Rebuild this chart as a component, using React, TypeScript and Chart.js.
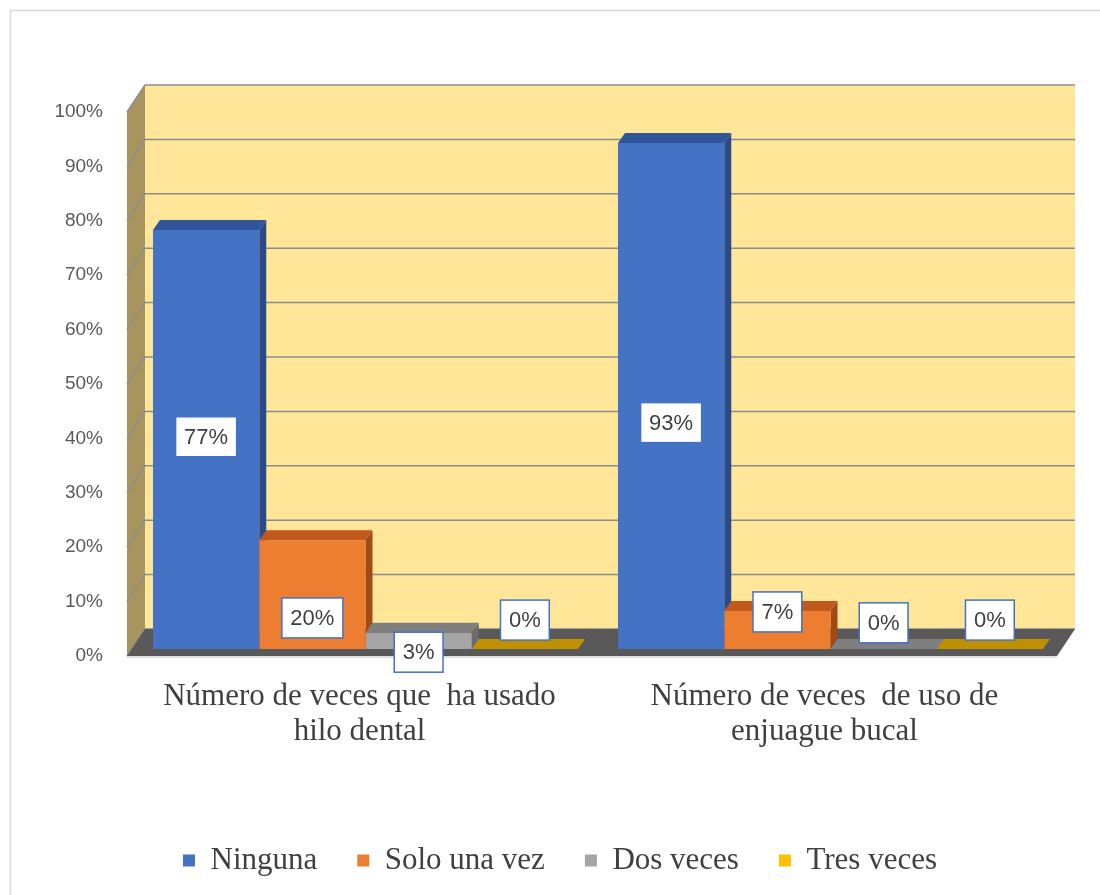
import React, { useEffect, useRef } from 'react';
import { Chart, registerables } from 'chart.js';

Chart.register(...registerables);

// ---------- data ----------
const categories: string[][] = [
  ['Número de veces que  ha usado', 'hilo dental'],
  ['Número de veces  de uso de', 'enjuague bucal'],
];
const seriesNames = ['Ninguna', 'Solo una vez', 'Dos veces', 'Tres veces'];
const ninguna = [0.77, 0.93];
const soloUnaVez = [0.2, 0.07];
const dosVeces = [0.03, 0];
const tresVeces = [0, 0];
const yMin = 0;
const yMax = 1;
const yStep = 0.1;

// where the data labels sit (value units on the front plane)
const labelAnchorNinguna = [0.403, 0.429];
const labelAnchorSolo = [0.07, 0.081];
const labelAnchorDos = [0.007, 0.061];
const labelAnchorTres = [0.066, 0.066];

const seriesValues = [ninguna, soloUnaVez, dosVeces, tresVeces];
const labelAnchors = [labelAnchorNinguna, labelAnchorSolo, labelAnchorDos, labelAnchorTres];

// ---------- styles ----------
const frontColors = ['#4472C4', '#ED7D31', '#A5A5A5', '#FFC000'];
const topColors = ['#31559A', '#C2591C', '#7F7F7F', '#BF9000'];
const sideColors = ['#2B4A87', '#A04A15', '#6B6B6B', '#A67D00'];
const WALL_DX = 18;
const WALL_DY = -27;
const BAR_SHIFT_X = 6;
const BAR_SHIFT_Y = -7;
const BAR_DX = 7;
const BAR_DY = -10;

function poly(ctx: CanvasRenderingContext2D, pts: number[][], fill: string) {
  ctx.beginPath();
  ctx.moveTo(pts[0][0], pts[0][1]);
  for (let k = 1; k < pts.length; k++) ctx.lineTo(pts[k][0], pts[k][1]);
  ctx.closePath();
  ctx.fillStyle = fill;
  ctx.fill();
}

const threeD = {
  id: 'threeD',
  beforeDraw(chart: any) {
    const { ctx, width, height } = chart;
    ctx.save();
    ctx.fillStyle = '#ffffff';
    ctx.fillRect(0, 0, width, height);
    ctx.strokeStyle = '#D9D9D9';
    ctx.lineWidth = 1.5;
    ctx.strokeRect(10.5, 10.5, width + 20, height + 20);
    ctx.restore();
  },
  beforeDatasetsDraw(chart: any) {
    const { ctx, chartArea: a } = chart;
    const ys = chart.scales.y;
    const L = a.left, R = a.right, T = a.top, B = a.bottom;
    ctx.save();
    // back wall
    ctx.fillStyle = '#FFE699';
    ctx.fillRect(L + WALL_DX, T + WALL_DY, R - L, B - T);
    // side wall
    poly(ctx, [[L, T], [L + WALL_DX, T + WALL_DY], [L + WALL_DX, B + WALL_DY], [L, B]], '#A8945F');
    // grid lines
    ctx.strokeStyle = '#8C8C8C';
    ctx.lineWidth = 1.5;
    ys.ticks.forEach((t: any) => {
      const y = ys.getPixelForValue(t.value);
      ctx.beginPath();
      ctx.moveTo(L + WALL_DX, y + WALL_DY);
      ctx.lineTo(R + WALL_DX, y + WALL_DY);
      ctx.stroke();
      ctx.beginPath();
      ctx.moveTo(L, y);
      ctx.lineTo(L + WALL_DX, y + WALL_DY);
      ctx.stroke();
    });
    // floor
    poly(ctx, [[L, B], [L + WALL_DX, B + WALL_DY], [R + WALL_DX, B + WALL_DY], [R, B]], '#595959');
    ctx.strokeStyle = '#BFBFBF';
    ctx.lineWidth = 1;
    ctx.beginPath();
    ctx.moveTo(L, B + 1);
    ctx.lineTo(R, B + 1);
    ctx.stroke();
    ctx.restore();

    // bar extrusions, then leave context translated for the bar fronts
    ctx.save();
    ctx.translate(BAR_SHIFT_X, BAR_SHIFT_Y);
    const items: any[] = [];
    chart.data.datasets.forEach((_ds: any, i: number) => {
      const meta = chart.getDatasetMeta(i);
      meta.data.forEach((el: any) => {
        const p = el.getProps(['x', 'y', 'base', 'width'], true);
        items.push({ ...p, i });
      });
    });
    items.sort((p, q) => p.x - q.x);
    items.forEach((it) => {
      const left = it.x - it.width / 2;
      const right = it.x + it.width / 2;
      const top = Math.min(it.y, it.base);
      const bottom = Math.max(it.y, it.base);
      if (bottom - top > 0.5) {
        poly(ctx, [[right, top], [right + BAR_DX, top + BAR_DY], [right + BAR_DX, bottom + BAR_DY], [right, bottom]], sideColors[it.i]);
      }
      poly(ctx, [[left, top], [left + BAR_DX, top + BAR_DY], [right + BAR_DX, top + BAR_DY], [right, top]], topColors[it.i]);
    });
  },
  afterDatasetsDraw(chart: any) {
    const { ctx } = chart;
    ctx.restore();
    const ys = chart.scales.y;
    ctx.save();
    ctx.font = '22px "Liberation Sans"';
    ctx.textAlign = 'center';
    ctx.textBaseline = 'middle';
    chart.data.datasets.forEach((ds: any, i: number) => {
      const meta = chart.getDatasetMeta(i);
      meta.data.forEach((el: any, j: number) => {
        const v = ds.data[j];
        const text = Math.round(v * 100) + '%';
        const cx = el.x + BAR_SHIFT_X;
        const cy = ys.getPixelForValue(labelAnchors[i][j]);
        const w = ctx.measureText(text).width + 17;
        const h = 40;
        ctx.fillStyle = '#ffffff';
        ctx.fillRect(cx - w / 2, cy - h / 2, w, h);
        ctx.strokeStyle = '#4472C4';
        ctx.lineWidth = 1.5;
        ctx.strokeRect(cx - w / 2, cy - h / 2, w, h);
        ctx.fillStyle = '#404040';
        ctx.fillText(text, cx, cy + 1);
      });
    });
    ctx.restore();
  },
};

export default function App() {
  const ref = useRef<HTMLCanvasElement | null>(null);
  useEffect(() => {
    document.body.style.margin = '0';
    const canvas = ref.current;
    if (!canvas) return;
    const chart = new Chart(canvas, {
      type: 'bar',
      data: {
        labels: categories as any,
        datasets: seriesNames.map((name, i) => ({
          label: name,
          data: seriesValues[i],
          backgroundColor: frontColors[i],
          borderWidth: 0,
          categoryPercentage: 0.914,
          barPercentage: 1,
        })),
      },
      options: {
        responsive: false,
        animation: false,
        layout: { padding: { top: 112, left: 20, right: 0, bottom: 9 } },
        plugins: {
          tooltip: { enabled: false },
          legend: {
            position: 'bottom',
            labels: {
              boxWidth: 12,
              boxHeight: 12,
              padding: 40,
              color: '#404040',
              font: { family: '"Liberation Serif"', size: 31 },
            },
          },
        },
        scales: {
          x: {
            grid: { display: false, drawTicks: false },
            border: { display: false },
            ticks: {
              color: '#404040',
              padding: 23.5,
              font: { family: '"Liberation Serif"', size: 31, lineHeight: 1.13 },
              maxRotation: 0,
              autoSkip: false,
            },
            afterFit: (s: any) => {
              s.height = 149;
            },
          },
          y: {
            min: yMin,
            max: yMax,
            grid: { display: false, drawTicks: false },
            border: { display: false },
            ticks: {
              stepSize: yStep,
              color: '#595959',
              padding: 24,
              font: { family: '"Liberation Sans"', size: 19 },
              callback: (v: any) => Math.round(Number(v) * 100) + '%',
            },
            afterFit: (s: any) => {
              s.width = 107;
            },
          },
          yRight: {
            type: 'linear',
            position: 'right',
            min: yMin,
            max: yMax,
            grid: { display: false, drawTicks: false },
            border: { display: false },
            ticks: { display: false },
            afterFit: (s: any) => {
              s.width = 43;
            },
          },
        },
      },
      plugins: [threeD],
    } as any);
    return () => chart.destroy();
  }, []);
  return <canvas ref={ref} width={1100} height={895} style={{ display: 'block' }} />;
}
